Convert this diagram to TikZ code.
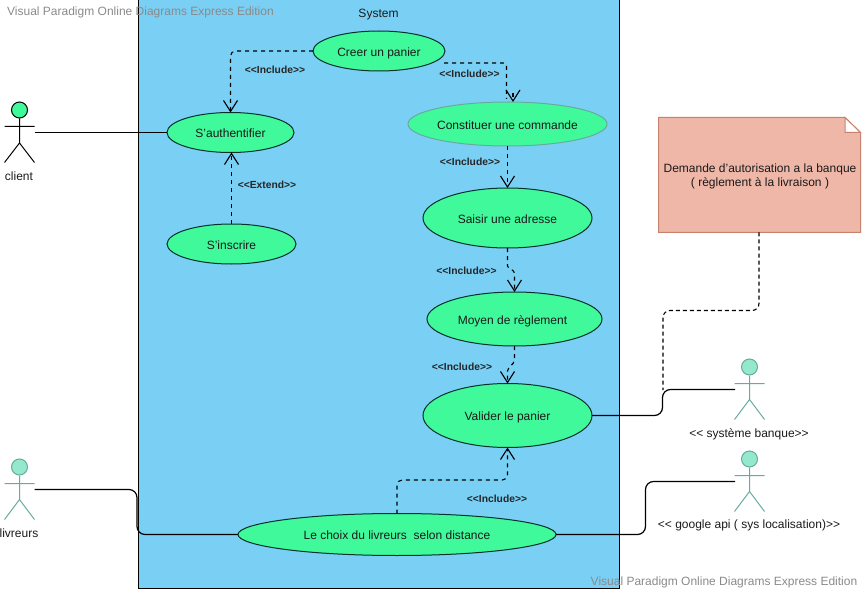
\documentclass[tikz,border=0pt]{standalone}
\usepackage{fontspec}
\setmainfont{Liberation Sans}
\usetikzlibrary{shapes.geometric,arrows.meta}
\definecolor{sky}{HTML}{7ACFF5}
\definecolor{uc}{HTML}{40F99B}
\definecolor{ucline}{HTML}{06302A}
\definecolor{actfill}{HTML}{94E8CC}
\definecolor{actline}{HTML}{67AB9F}
\definecolor{notefill}{HTML}{EFB7A8}
\definecolor{noteline}{HTML}{C9806C}
\definecolor{wm}{HTML}{8A8A8A}
\definecolor{ink}{HTML}{1A1A1A}
\tikzset{
  txt/.style={font=\fontsize{12}{14}\selectfont,text=ink,inner sep=0pt},
  usecase/.style={ellipse,draw=ucline,fill=uc,line width=1pt,inner sep=0pt,outer sep=0pt,txt,text height=13.5pt,text depth=3pt},
  stereo/.style={font=\fontsize{10.3}{12}\selectfont\bfseries,text=black!85,inner sep=0pt},
  watermark/.style={font=\fontsize{12}{14}\selectfont,text=wm,inner sep=0pt},
  assoc/.style={draw=black,line width=1.2pt,rounded corners=8pt},
  dep/.style={draw=black,line width=1.1pt,dash pattern=on 4pt off 4pt,rounded corners=5pt,
    -{Straight Barb[length=11pt,width=14pt,line width=1.1pt]}},
  depplain/.style={draw=black,line width=1.1pt,dash pattern=on 4pt off 4pt,rounded corners=3pt},
  noteline dashed/.style={draw=black,line width=1.1pt,dash pattern=on 4pt off 3pt,rounded corners=7pt},
  actorblack/.style={draw=black,line width=1pt},
  actorteal/.style={draw=actline,line width=1pt},
  headblack/.style={circle,draw=black,fill=uc,line width=1pt,minimum size=16pt,inner sep=0pt},
  headteal/.style={circle,draw=actline,fill=actfill,line width=1pt,minimum size=16pt,inner sep=0pt}
}
\begin{document}
\begin{tikzpicture}[x=1pt,y=-1pt]
\useasboundingbox (0,0) rectangle (863,591);
% system boundary
\node[draw=black,fill=sky,line width=1pt,minimum width=481pt,minimum height=588pt,inner sep=0pt,outer sep=0pt,anchor=north west] (system) at (138.5,0) {};
\node[txt] (systitle) at (378.5,14.5) {System};
% use cases
\node[usecase,minimum width=132pt,minimum height=40pt] (creer) at (379,51) {Creer un panier};
\node[usecase,minimum width=127pt,minimum height=40pt] (sauth) at (230.5,132.5) {S'authentifier};
\node[usecase,minimum width=129pt,minimum height=40pt] (sinsc) at (231.5,244) {S'inscrire};
\node[usecase,draw=actline,minimum width=195pt,minimum height=44pt] (const) at (507.5,124) {Constituer une commande};
\node[usecase,minimum width=169pt,minimum height=60pt] (saisir) at (507.5,218) {Saisir une adresse};
\node[usecase,minimum width=175pt,minimum height=54pt] (moyen) at (514.5,319) {Moyen de règlement\kern4pt};
\node[usecase,minimum width=169pt,minimum height=64pt] (valider) at (507.5,415.5) {Valider le panier};
\node[usecase,minimum width=318pt,minimum height=42pt] (choix) at (397,534.5) {Le choix du livreurs\ \ selon distance};
% note
\path[draw=noteline,fill=notefill,line width=1pt] (658.5,117.5) -- (845,117.5) -- (860.5,132.5) -- (860.5,232.5) -- (658.5,232.5) -- cycle;
\path[draw=noteline,fill=white,line width=1pt] (845,117.5) -- (845,132.5) -- (860.5,132.5) -- cycle;
\node[txt,align=center] (note) at (760,176) {Demande d'autorisation a la banque\\( règlement à la livraison )};
\coordinate (noteS) at (759,232.5);
% actors
\node[headblack] (clientH) at (19.5,110) {};
\draw[actorblack] (clientH.south) -- (19.5,143) (4.5,126.5) -- (34.5,126.5) (4.5,162.5) -- (19.5,143) -- (34.5,162.5);
\node[txt] (clientL) at (19,176) {client};
\coordinate (clientA) at (34.5,132.5);
\node[headteal] (livH) at (19.5,467) {};
\draw[actorteal] (livH.south) -- (19.5,499.5) (4.5,483.5) -- (34.5,483.5) (4.5,519.5) -- (19.5,499.5) -- (34.5,519.5);
\node[txt] (livL) at (19,533.5) {livreurs};
\coordinate (livA) at (34.5,489.5);
\node[headteal] (banqH) at (749.5,367) {};
\draw[actorteal] (banqH.south) -- (749.5,399.5) (734.5,383.5) -- (764.5,383.5) (734.5,419.5) -- (749.5,399.5) -- (764.5,419.5);
\node[txt] (banqL) at (749,434) {<{}< système banque>{}>};
\coordinate (banqA) at (735,389.5);
\node[headteal] (googH) at (749.5,459) {};
\draw[actorteal] (googH.south) -- (749.5,491.5) (734.5,475.5) -- (764.5,475.5) (734.5,511.5) -- (749.5,491.5) -- (764.5,511.5);
\node[txt] (googL) at (749,525) {<{}< google api ( sys localisation)>{}>};
\coordinate (googA) at (735,481.5);
% waypoints
\coordinate (cStart) at (444,63);
\coordinate (cBend) at (506.5,63);
\coordinate (cJog) at (506.5,99);
\coordinate (cTip) at (513,93);
\coordinate (s1) at (507.5,268);
\coordinate (s2) at (514.5,271);
\coordinate (m1) at (514.5,362);
\coordinate (m2) at (507.5,369);
\coordinate (noteBend) at (663,310.5);
\coordinate (noteEnd) at (663,390);
% associations
\draw[assoc] (clientA) -- (sauth.west);
\draw[assoc] (valider.east) -- (662.5,415.5) -- (662.5,389.5) -- (banqA);
\draw[assoc] (livA) -- (137,489.5) -- (137,534.5) -- (choix.west);
\draw[assoc] (choix.east) -- (645.5,534.5) -- (645.5,481.5) -- (googA);
\draw[noteline dashed] (noteS) -- (759,310.5) -- (noteBend) -- (noteEnd);
% dependencies
\draw[dep] (creer.west) -- (230.5,51) -- (sauth.north);
\draw[dep] (sinsc.north) -- (sinsc.north |- sauth.south);
\draw[depplain] (cStart) -- (cBend) -- (cJog);
\draw[dep] (cTip) -- ([xshift=5.5pt]const.north);
\draw[dep] (const.south) -- (saisir.north);
\draw[dep,rounded corners=2pt] (saisir.south) -- (s1) -- (s2) -- (moyen.north);
\draw[dep,rounded corners=2pt] (moyen.south) -- (m1) -- (m2) -- (valider.north);
\draw[dep] (choix.north) -- (397,480) -- (507.5,480) -- (valider.south);
% stereotype labels
\node[stereo] (l1) at (275,69.5) {<{}<Include>{}>};
\node[stereo] (l2) at (469.5,73.5) {<{}<Include>{}>};
\node[stereo] (l3) at (470,161.5) {<{}<Include>{}>};
\node[stereo] (l4) at (466.5,270.5) {<{}<Include>{}>};
\node[stereo] (l5) at (462,366.5) {<{}<Include>{}>};
\node[stereo] (l6) at (497,498.5) {<{}<Include>{}>};
\node[stereo] (l7) at (267,184.5) {<{}<Extend>{}>};
% watermarks
\node[watermark,anchor=west] (wm1) at (7,12.5) {Visual Paradigm Online Diagrams Express Edition};
\node[watermark,anchor=east] (wm2) at (857.5,582.5) {Visual Paradigm Online Diagrams Express Edition};
\end{tikzpicture}
\end{document}
